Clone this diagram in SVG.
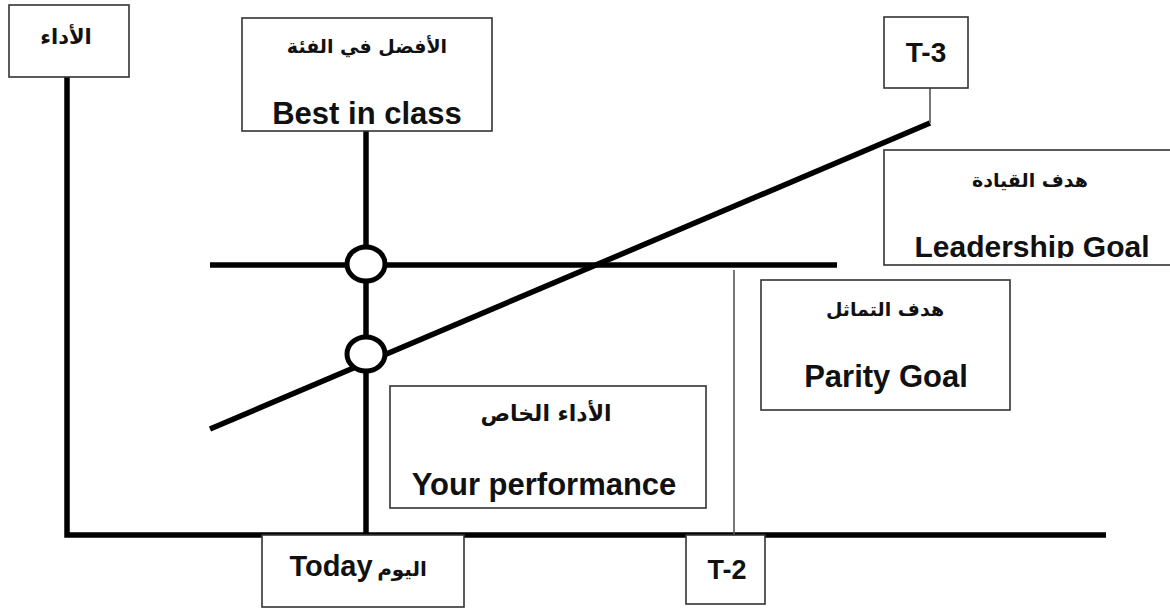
<svg xmlns="http://www.w3.org/2000/svg" width="1170" height="608" viewBox="0 0 1170 608">
  <style>
    .box { fill: #ffffff; stroke: #333333; stroke-width: 1.6; }
    .thick { stroke: #000000; stroke-width: 5.5; fill: none; }
    .thin { stroke: #555555; stroke-width: 1.6; fill: none; }
    .node { fill: #ffffff; stroke: #000000; stroke-width: 5; }
    .en { font-family: "Liberation Sans", Arial, sans-serif; font-weight: bold; fill: #111111; text-anchor: middle; }
    .ar { font-family: "DejaVu Sans", "Noto Sans", "Liberation Sans", sans-serif; font-weight: bold; fill: #111111; text-anchor: middle; }
  </style>
  <defs>
    <clipPath id="leadClip"><rect x="884" y="150" width="286" height="108"/></clipPath>
  </defs>

  <rect width="1170" height="608" fill="#ffffff"/>

  <!-- axes and guide lines -->
  <g id="connectors">
    <polyline class="thick" points="67,77 67,535 1106,535"/>
    <line class="thick" x1="366" y1="131" x2="366" y2="535"/>
    <line class="thick" x1="210" y1="265" x2="837" y2="265"/>
    <line class="thick" x1="210" y1="429" x2="930" y2="123"/>
    <line class="thin" x1="930" y1="123" x2="930" y2="88"/>
    <line class="thin" x1="734" y1="270" x2="734" y2="535"/>
    <ellipse class="node" cx="366" cy="264" rx="19" ry="17"/>
    <ellipse class="node" cx="366" cy="354" rx="19" ry="17"/>
  </g>

  <g id="performance">
    <rect class="box" x="9" y="5" width="120" height="72"/>
    <text class="ar" x="66" y="44" font-size="21">الأداء</text>
  </g>

  <g id="best-in-class">
    <rect class="box" x="242" y="18" width="250" height="113"/>
    <text class="ar" x="367" y="53" font-size="19">الأفضل في الفئة</text>
    <text class="en" x="367" y="124" font-size="31">Best in class</text>
  </g>

  <g id="t3">
    <rect class="box" x="884" y="17" width="84" height="71"/>
    <text class="en" x="926" y="62" font-size="28">T-3</text>
  </g>

  <g id="leadership-goal">
    <rect class="box" x="884" y="150" width="290" height="115"/>
    <text class="ar" x="1030" y="187" font-size="19">هدف القيادة</text>
    <text class="en" x="1032" y="257" font-size="30" clip-path="url(#leadClip)">Leadership Goal</text>
  </g>

  <g id="parity-goal">
    <rect class="box" x="761" y="280" width="249" height="130"/>
    <text class="ar" x="885" y="316" font-size="19">هدف التماثل</text>
    <text class="en" x="886" y="387" font-size="31">Parity Goal</text>
  </g>

  <g id="your-performance">
    <rect class="box" x="390" y="386" width="316" height="122"/>
    <text class="ar" x="546" y="421" font-size="22">الأداء الخاص</text>
    <text class="en" x="544" y="495" font-size="31">Your performance</text>
  </g>

  <g id="today">
    <rect class="box" x="262" y="535" width="202" height="72"/>
    <text class="en" x="331" y="576" font-size="29">Today</text>
    <text class="ar" x="402" y="576" font-size="20">اليوم</text>
  </g>

  <g id="t2">
    <rect class="box" x="686" y="535" width="79" height="69"/>
    <text class="en" x="727" y="579" font-size="27">T-2</text>
  </g>
</svg>
